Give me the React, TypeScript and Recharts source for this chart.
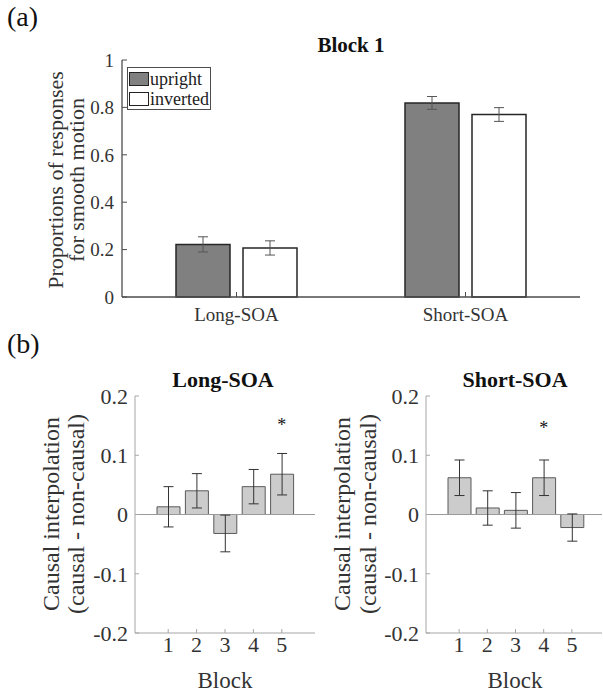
import React from 'react';
import { ComposedChart, Bar, XAxis, YAxis, ErrorBar, Legend, ReferenceLine, ReferenceDot } from 'recharts';

const serif = '"Liberation Serif", "Times New Roman", serif';

// (a) Block 1 – proportion of "smooth motion" responses
const conditions = ['Long-SOA', 'Short-SOA'];
const orientations = ['upright', 'inverted'];
const uprightMeans = [0.222, 0.819];
const uprightSem = [0.032, 0.027];
const invertedMeans = [0.207, 0.77];
const invertedSem = [0.03, 0.029];
const propTicks = [0, 0.2, 0.4, 0.6, 0.8, 1];

// (b) causal interpolation per block
const blocks = ['1', '2', '3', '4', '5'];
const longMeans = [0.013, 0.04, -0.032, 0.047, 0.068];
const longSem = [0.034, 0.029, 0.031, 0.029, 0.035];
const shortMeans = [0.062, 0.011, 0.007, 0.062, -0.022];
const shortSem = [0.03, 0.029, 0.03, 0.03, 0.023];
const diffTicks = [-0.2, -0.1, 0, 0.1, 0.2];
const longStar = { block: '5', y: 0.156 };
const shortStar = { block: '4', y: 0.15 };

const blockData = conditions.map((c, i) => ({
  cond: c,
  upright: uprightMeans[i],
  uprightErr: uprightSem[i],
  inverted: invertedMeans[i],
  invertedErr: invertedSem[i],
}));
const longData = blocks.map((b, i) => ({ block: b, diff: longMeans[i], err: longSem[i] }));
const shortData = blocks.map((b, i) => ({ block: b, diff: shortMeans[i], err: shortSem[i] }));

const boxA = '#4d4d4d';
const boxB = '#a6a6a6';
const textCol = '#333';

const renderLegend = (props: any) => {
  const items = [...(props.payload || [])].sort(
    (a: any, b: any) => orientations.indexOf(a.value) - orientations.indexOf(b.value)
  );
  return (
    <div style={{ border: `1px solid ${boxA}`, background: '#fff', padding: '1px 1px 0 1px', fontFamily: serif, fontSize: 18, color: '#222' }}>
      {items.map((p: any) => (
        <div key={p.value} style={{ display: 'flex', alignItems: 'center', height: 20, lineHeight: '20px' }}>
          <span style={{ display: 'inline-block', width: 18, height: 12, background: p.color, border: '1.5px solid #222', marginRight: 1 }} />
          {p.value}
        </div>
      ))}
    </div>
  );
};

const Star = (props: any) => (
  <text x={props.cx} y={props.cy + 8.5} textAnchor="middle" fontSize={18} fontFamily={serif} fill="#111">*</text>
);

function DiffPanel({ data, star, left, marginRight, padRight }: any) {
  const tickStyle = { fill: textCol, fontSize: 22, fontFamily: serif };
  return (
    <div style={{ position: 'absolute', left, top: 355 }}>
      <ComposedChart width={320} height={339} data={data} margin={{ top: 41, right: marginRight, left: 95, bottom: 21 }}>
        <XAxis dataKey="block" interval={0} height={40} padding={{ left: 19, right: padRight }}
          tickSize={-4} tickMargin={7} tick={tickStyle} axisLine={{ stroke: boxB }} tickLine={{ stroke: boxB }} />
        <XAxis xAxisId="top" orientation="top" dataKey="block" scale="band" interval={0} height={0}
          padding={{ left: 19, right: padRight }} tick={false} tickSize={-4}
          axisLine={{ stroke: boxB }} tickLine={{ stroke: boxB }} />
        <YAxis type="number" domain={[-0.2, 0.2]} ticks={diffTicks} interval={0} width={40}
          tickSize={-4} tickMargin={11} tick={tickStyle} axisLine={{ stroke: boxB }} tickLine={{ stroke: boxB }} />
        <YAxis yAxisId="r" orientation="right" type="number" domain={[-0.2, 0.2]} ticks={diffTicks} interval={0}
          width={0} tick={false} tickSize={-4} axisLine={{ stroke: boxB }} tickLine={{ stroke: boxB }} />
        <ReferenceLine y={0} stroke="#9a9a9a" strokeWidth={1} />
        <Bar dataKey="diff" fill="#cccccc" stroke="#5a5a5a" strokeWidth={1} barSize={23} isAnimationActive={false}>
          <ErrorBar dataKey="err" width={5} stroke="#333" strokeWidth={1} />
        </Bar>
        <ReferenceDot x={star.block} y={star.y} r={0} shape={Star} />
      </ComposedChart>
    </div>
  );
}

export default function App() {
  const tickA = { fill: textCol, fontSize: 19, fontFamily: serif };
  return (
    <div style={{ position: 'absolute', left: 0, top: 0, width: 603, height: 694, overflow: 'hidden', background: '#fff' }}>
      <div style={{ position: 'absolute', left: 0, top: 0 }}>
        <ComposedChart width={603} height={340} data={blockData} margin={{ top: 60, right: 23, left: 82, bottom: 13 }} barGap={13}>
          <XAxis dataKey="cond" interval={0} height={30} tickSize={-5} tickMargin={16} tick={tickA}
            axisLine={{ stroke: boxA, strokeWidth: 1.3 }} tickLine={{ stroke: boxA }} />
          <XAxis xAxisId="top" orientation="top" dataKey="cond" scale="band" interval={0} height={0} tick={false}
            tickSize={-5} axisLine={{ stroke: boxA, strokeWidth: 1.3 }} tickLine={{ stroke: boxA }} />
          <YAxis type="number" domain={[0, 1]} ticks={propTicks} interval={0} width={40} tickSize={-5} tickMargin={13}
            tick={tickA} axisLine={{ stroke: boxA, strokeWidth: 1.3 }} tickLine={{ stroke: boxA }} />
          <YAxis yAxisId="r" orientation="right" type="number" domain={[0, 1]} ticks={propTicks} interval={0} width={0}
            tick={false} tickSize={-5} axisLine={{ stroke: boxA, strokeWidth: 1.3 }} tickLine={{ stroke: boxA }} />
          <Legend layout="vertical" align="center" verticalAlign="middle" content={renderLegend}
            wrapperStyle={{ left: 127, top: 67, width: 'auto', height: 'auto' }} />
          <Bar dataKey="upright" name="upright" fill="#808080" stroke="#262626" strokeWidth={1.5} barSize={54} isAnimationActive={false}>
            <ErrorBar dataKey="uprightErr" width={5} stroke="#555" strokeWidth={1} />
          </Bar>
          <Bar dataKey="inverted" name="inverted" fill="#ffffff" stroke="#262626" strokeWidth={1.5} barSize={54} isAnimationActive={false}>
            <ErrorBar dataKey="invertedErr" width={5} stroke="#555" strokeWidth={1} />
          </Bar>
        </ComposedChart>
      </div>

      <DiffPanel data={longData} star={longStar} left={0} marginRight={5} padRight={19} />
      <DiffPanel data={shortData} star={shortStar} left={291} marginRight={9} padRight={16} />

      <svg width={603} height={694} style={{ position: 'absolute', left: 0, top: 0, pointerEvents: 'none' }} fontFamily={serif}>
        <text x={7} y={26} fontSize={28} fill="#111">(a)</text>
        <text x={351} y={52} fontSize={21} fontWeight="bold" textAnchor="middle" fill="#111">Block 1</text>
        <text transform="translate(63,180) rotate(-90)" fontSize={22} textAnchor="middle" fill={textCol}>Proportions of responses</text>
        <text transform="translate(84,180) rotate(-90)" fontSize={22} textAnchor="middle" fill={textCol}>for smooth motion</text>

        <text x={7} y={353} fontSize={28} fill="#111">(b)</text>
        <text x={223} y={387} fontSize={22} fontWeight="bold" textAnchor="middle" fill="#111">Long-SOA</text>
        <text x={515} y={387} fontSize={22} fontWeight="bold" textAnchor="middle" fill="#111">Short-SOA</text>
        <text transform="translate(59,514) rotate(-90)" fontSize={24} textAnchor="middle" fill={textCol}>Causal interpolation</text>
        <text transform="translate(84,514) rotate(-90)" fontSize={24} textAnchor="middle" fill={textCol}>(causal - non-causal)</text>
        <text transform="translate(350,514) rotate(-90)" fontSize={24} textAnchor="middle" fill={textCol}>Causal interpolation</text>
        <text transform="translate(376,514) rotate(-90)" fontSize={24} textAnchor="middle" fill={textCol}>(causal - non-causal)</text>
        <text x={225} y={688} fontSize={23} textAnchor="middle" fill={textCol}>Block</text>
        <text x={515} y={688} fontSize={23} textAnchor="middle" fill={textCol}>Block</text>
      </svg>
    </div>
  );
}
